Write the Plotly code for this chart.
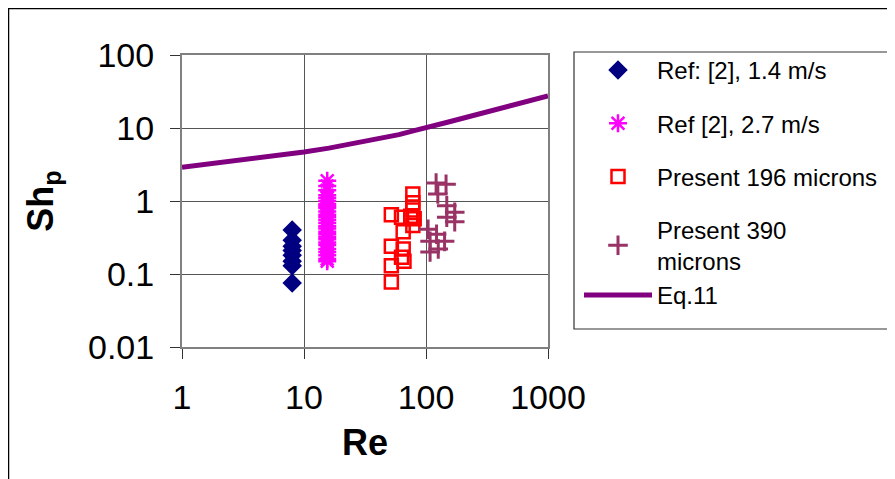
import plotly.graph_objects as go

# ---- data ----
re_ref14 = [8, 8, 8, 8, 8, 8, 8, 8]
sh_ref14 = [0.40, 0.29, 0.24, 0.21, 0.18, 0.15, 0.13, 0.075]

re_ref27 = [15.5] * 27
sh_ref27 = [1.9, 1.6, 1.4, 1.2, 1.1, 1.0, 0.9, 0.85, 0.8, 0.72, 0.65, 0.6, 0.55,
            0.5, 0.45, 0.42, 0.38, 0.35, 0.32, 0.3, 0.27, 0.25, 0.22, 0.2, 0.18,
            0.16, 0.15]

re_196 = [52, 52, 52, 52, 63, 65, 65, 63, 66, 78, 78, 78, 80, 78, 75]
sh_196 = [0.65, 0.24, 0.13, 0.078, 0.6, 0.38, 0.22, 0.17, 0.15, 1.25, 0.95,
          0.75, 0.57, 0.46, 0.62]

re_390 = [121, 146, 125, 148, 172, 148, 172, 104, 122, 108, 126, 142, 108]
sh_390 = [1.76, 1.7, 1.25, 0.86, 0.7, 0.6, 0.52, 0.41, 0.35, 0.28, 0.22, 0.28, 0.2]

re_eq = [1, 8, 10, 16, 50, 60, 80, 100, 120, 150, 1000]
sh_eq = [2.9, 4.4, 4.7, 5.3, 7.6, 8.1, 9.2, 10.2, 10.9, 12.0, 27.4]

x_ticks = [1, 10, 100, 1000]
x_ticktext = ["1", "10", "100", "1000"]
y_ticks = [0.01, 0.1, 1, 10, 100]
y_ticktext = ["0.01", "0.1", "1", "10", "100"]

FONT = "Liberation Sans, Arial, sans-serif"

fig = go.Figure()
fig.add_trace(go.Scatter(
    x=re_ref14, y=sh_ref14, mode="markers", name="Ref: [2], 1.4 m/s",
    legendgroup="g1",
    marker=dict(symbol="diamond", size=15, color="#000080",
                line=dict(width=0))))
fig.add_trace(go.Scatter(
    x=re_ref27, y=sh_ref27, mode="markers", name="Ref [2], 2.7 m/s",
    legendgroup="g2",
    marker=dict(symbol="asterisk-open", size=15, color="#FF00FF",
                line=dict(width=2.5, color="#FF00FF"))))
fig.add_trace(go.Scatter(
    x=re_196, y=sh_196, mode="markers", name="Present 196 microns",
    legendgroup="g3",
    marker=dict(symbol="square-open", size=13, color="#FF0000",
                line=dict(width=2.5, color="#FF0000"))))
fig.add_trace(go.Scatter(
    x=re_390, y=sh_390, mode="markers", name="Present 390<br>microns",
    legendgroup="g4",
    marker=dict(symbol="cross-thin-open", size=14, color="#993366",
                line=dict(width=3, color="#993366"))))
fig.add_trace(go.Scatter(
    x=re_eq, y=sh_eq, mode="lines", name="Eq.11",
    legendgroup="g4",
    line=dict(color="#800080", width=5)))

# page has an 8px body margin, so the figure is drawn 8px in from the corner
W, H = 887, 471
L, R, T, B = 174, 540, 47, 339

def px_x(p):
    return (p - L) / (R - L)

def px_y(p):
    return (B - p) / (B - T)

fig.update_layout(
    width=W, height=H,
    margin=dict(l=L, r=W - R, t=T, b=H - B, autoexpand=False),
    paper_bgcolor="white", plot_bgcolor="white",
    font=dict(family=FONT, color="black"),
    showlegend=True,
    legend=dict(
        x=px_x(571), y=px_y(40), xanchor="left", yanchor="top",
        bgcolor="rgba(0,0,0,0)", borderwidth=0,
        font=dict(family=FONT, size=24, color="black"),
        traceorder="grouped", tracegroupgap=19,
        itemwidth=68, maxheight=460,
    ),
    shapes=[
        # outer chart frame (top and left edges visible)
        dict(type="rect", xref="paper", yref="paper",
             x0=px_x(0.5), x1=px_x(W + 20), y0=px_y(H + 20), y1=px_y(0.5),
             line=dict(color="black", width=1.5), layer="below"),
        # legend box
        dict(type="rect", xref="paper", yref="paper",
             x0=px_x(566), x1=px_x(881), y0=px_y(321), y1=px_y(44),
             line=dict(color="#333333", width=1.2)),
    ],
)

fig.update_xaxes(
    type="log", range=[0, 3],
    tickvals=x_ticks, ticktext=x_ticktext,
    ticks="outside", ticklen=10, tickwidth=1, tickcolor="#333333",
    showgrid=True, gridcolor="#555555", gridwidth=1,
    showline=True, linecolor="#808080", linewidth=2, mirror=True,
    tickfont=dict(family=FONT, size=34, color="black"),
    ticklabelstandoff=9,
    title=dict(text="<b>Re</b>", font=dict(family=FONT, size=36, color="black"),
               standoff=15),
    zeroline=False,
)
fig.update_yaxes(
    type="log", range=[-2, 2],
    tickvals=y_ticks, ticktext=y_ticktext,
    ticks="outside", ticklen=10, tickwidth=1, tickcolor="#333333",
    showgrid=True, gridcolor="#555555", gridwidth=1,
    showline=True, linecolor="#808080", linewidth=2, mirror=True,
    tickfont=dict(family=FONT, size=34, color="black"),
    ticklabelstandoff=9,
    title=dict(text="<b>Sh<sub>p</sub></b>",
               font=dict(family=FONT, size=36, color="black"),
               standoff=23),
    zeroline=False,
)

fig.write_html("out.html")
